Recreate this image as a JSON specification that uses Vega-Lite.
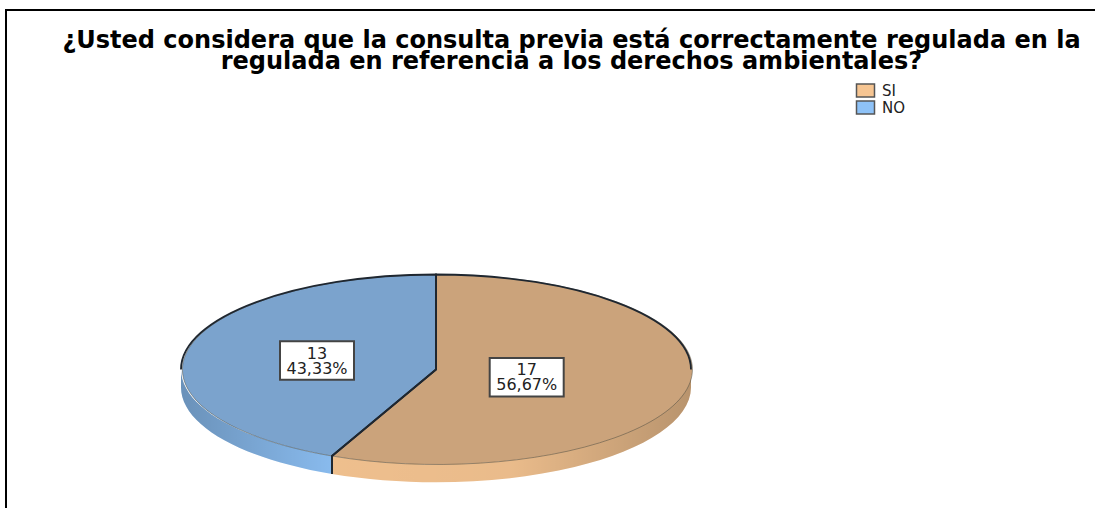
{
"$schema":"https://vega.github.io/schema/vega-lite/v6.json",
"width":1091,"height":500,
"autosize":{"type":"none"},
"padding":{"left":6,"top":10,"right":-2,"bottom":-2},
"background":"white",
"view":{"stroke":"#000000","strokeWidth":2,"fill":null},
"title":{"text":["¿Usted considera que la consulta previa está correctamente regulada en la","regulada en referencia a los derechos ambientales?"],"font":"DejaVu Sans","fontWeight":"bold","fontSize":24,"lineHeight":21,"color":"#000000","anchor":"middle","frame":"group","dx":20,"dy":68},
"data":{"values":[{"categoria":"SI","casos":17,"porcentaje":"56,67%","etiqueta":["17","56,67%"]},{"categoria":"NO","casos":13,"porcentaje":"43,33%","etiqueta":["13","43,33%"]}]},
"layer":[
{"mark":{"type":"point","filled":true,"opacity":1,"size":4,"strokeWidth":0},
 "encoding":{
  "color":{"field":"categoria","type":"nominal","scale":{"domain":["SI","NO"],"range":["#F6C592","#8EC2F7"]},
   "legend":{"title":null,"orient":"none","legendX":852,"legendY":73,"symbolType":"M -1.8 -1.3 L 1.8 -1.3 L 1.8 1.3 L -1.8 1.3 Z","symbolSize":100,"symbolStrokeColor":"#555555","symbolStrokeWidth":1.5,"symbolOpacity":1,"rowPadding":-3,"labelOffset":9,"labelFont":"DejaVu Sans","labelFontSize":15,"labelColor":"#222222"}},
  "shape":{"field":"porcentaje","type":"nominal","legend":null,"scale":{"domain":["56,67%","43,33%"],"range":["M 139.5 109.5 L 139.5 127.5 A 255 95 0 0 1 -219.5 214 L -219.5 196 A 255 95 0 0 0 139.5 109.5 Z","M -370.5 109.5 L -370.5 127.5 A 255 95 0 0 0 -219.5 214 L -219.5 196 A 255 95 0 0 1 -370.5 109.5 Z"]}}
 }},
{"transform":[{"filter":"datum.categoria === 'SI'"}],
 "mark":{"type":"point","filled":true,"opacity":1,"size":4,"strokeWidth":0,"shape":"M 139.5 109.5 L 139.5 127.5 A 255 95 0 0 1 -219.5 214 L -219.5 196 A 255 95 0 0 0 139.5 109.5 Z",
  "fill":{"gradient":"linear","x1":0,"y1":0,"x2":1,"y2":0,"stops":[{"offset":0,"color":"rgba(0,0,0,0.03)"},{"offset":0.5,"color":"rgba(0,0,0,0.05)"},{"offset":1,"color":"rgba(0,0,0,0.25)"}]}},
 "encoding":{}},
{"transform":[{"filter":"datum.categoria === 'NO'"}],
 "mark":{"type":"point","filled":true,"opacity":1,"size":4,"strokeWidth":0,"shape":"M -370.5 109.5 L -370.5 127.5 A 255 95 0 0 0 -219.5 214 L -219.5 196 A 255 95 0 0 1 -370.5 109.5 Z",
  "fill":{"gradient":"linear","x1":0,"y1":0,"x2":1,"y2":0,"stops":[{"offset":0,"color":"rgba(0,0,0,0.25)"},{"offset":1,"color":"rgba(0,0,0,0.04)"}]}},
 "encoding":{}},
{"mark":{"type":"point","filled":true,"opacity":1,"size":4,"stroke":"#4a4a40","strokeWidth":0.5},
 "encoding":{
  "color":{"field":"categoria","type":"nominal","legend":null,"scale":{"domain":["SI","NO"],"range":["#CBA37B","#7BA3CD"]}},
  "shape":{"field":"categoria","type":"nominal","legend":null,"scale":{"domain":["SI","NO"],"range":["M -115.5 109.5 L -115.5 14.5 A 255 95 0 1 1 -219.5 196 Z","M -115.5 109.5 L -219.5 196 A 255 95 0 0 1 -115.5 14.5 Z"]}}
 }},
{"mark":{"type":"point","filled":false,"opacity":1,"size":4,"stroke":"#1f2730","strokeWidth":1.8},
 "encoding":{
  "shape":{"field":"categoria","type":"nominal","legend":null,"scale":{"domain":["SI","NO"],"range":["M 139.5 109.5 A 255 95 0 0 0 -115.5 14.5 L -115.5 109.5 L -219.5 196 L -219.5 214","M -370.5 109.5 A 255 95 0 0 1 -115.5 14.5 L -115.5 109.5 L -219.5 196 L -219.5 214"]}}
 }},
{"mark":{"type":"point","filled":true,"opacity":1,"size":4,"fill":"#ffffff","stroke":"#444444","strokeWidth":2,"shape":"M -37 -19.3 L 37 -19.3 L 37 19.3 L -37 19.3 Z"},
 "encoding":{
  "x":{"field":"casos","type":"quantitative","axis":null,"scale":{"domain":[13,17],"range":[311,520.7]}},
  "y":{"field":"casos","type":"quantitative","axis":null,"scale":{"domain":[13,17],"range":[350.5,367.3]}}
 }},
{"mark":{"type":"text","font":"DejaVu Sans","fontSize":16,"lineHeight":15,"dy":-7,"color":"#222222","align":"center","baseline":"middle"},
 "encoding":{
  "x":{"field":"casos","type":"quantitative","axis":null,"scale":{"domain":[13,17],"range":[311,520.7]}},
  "y":{"field":"casos","type":"quantitative","axis":null,"scale":{"domain":[13,17],"range":[350.5,367.3]}},
  "text":{"field":"etiqueta","type":"nominal"}
 }}
],
"resolve":{"scale":{"shape":"independent","color":"independent"}}
}
